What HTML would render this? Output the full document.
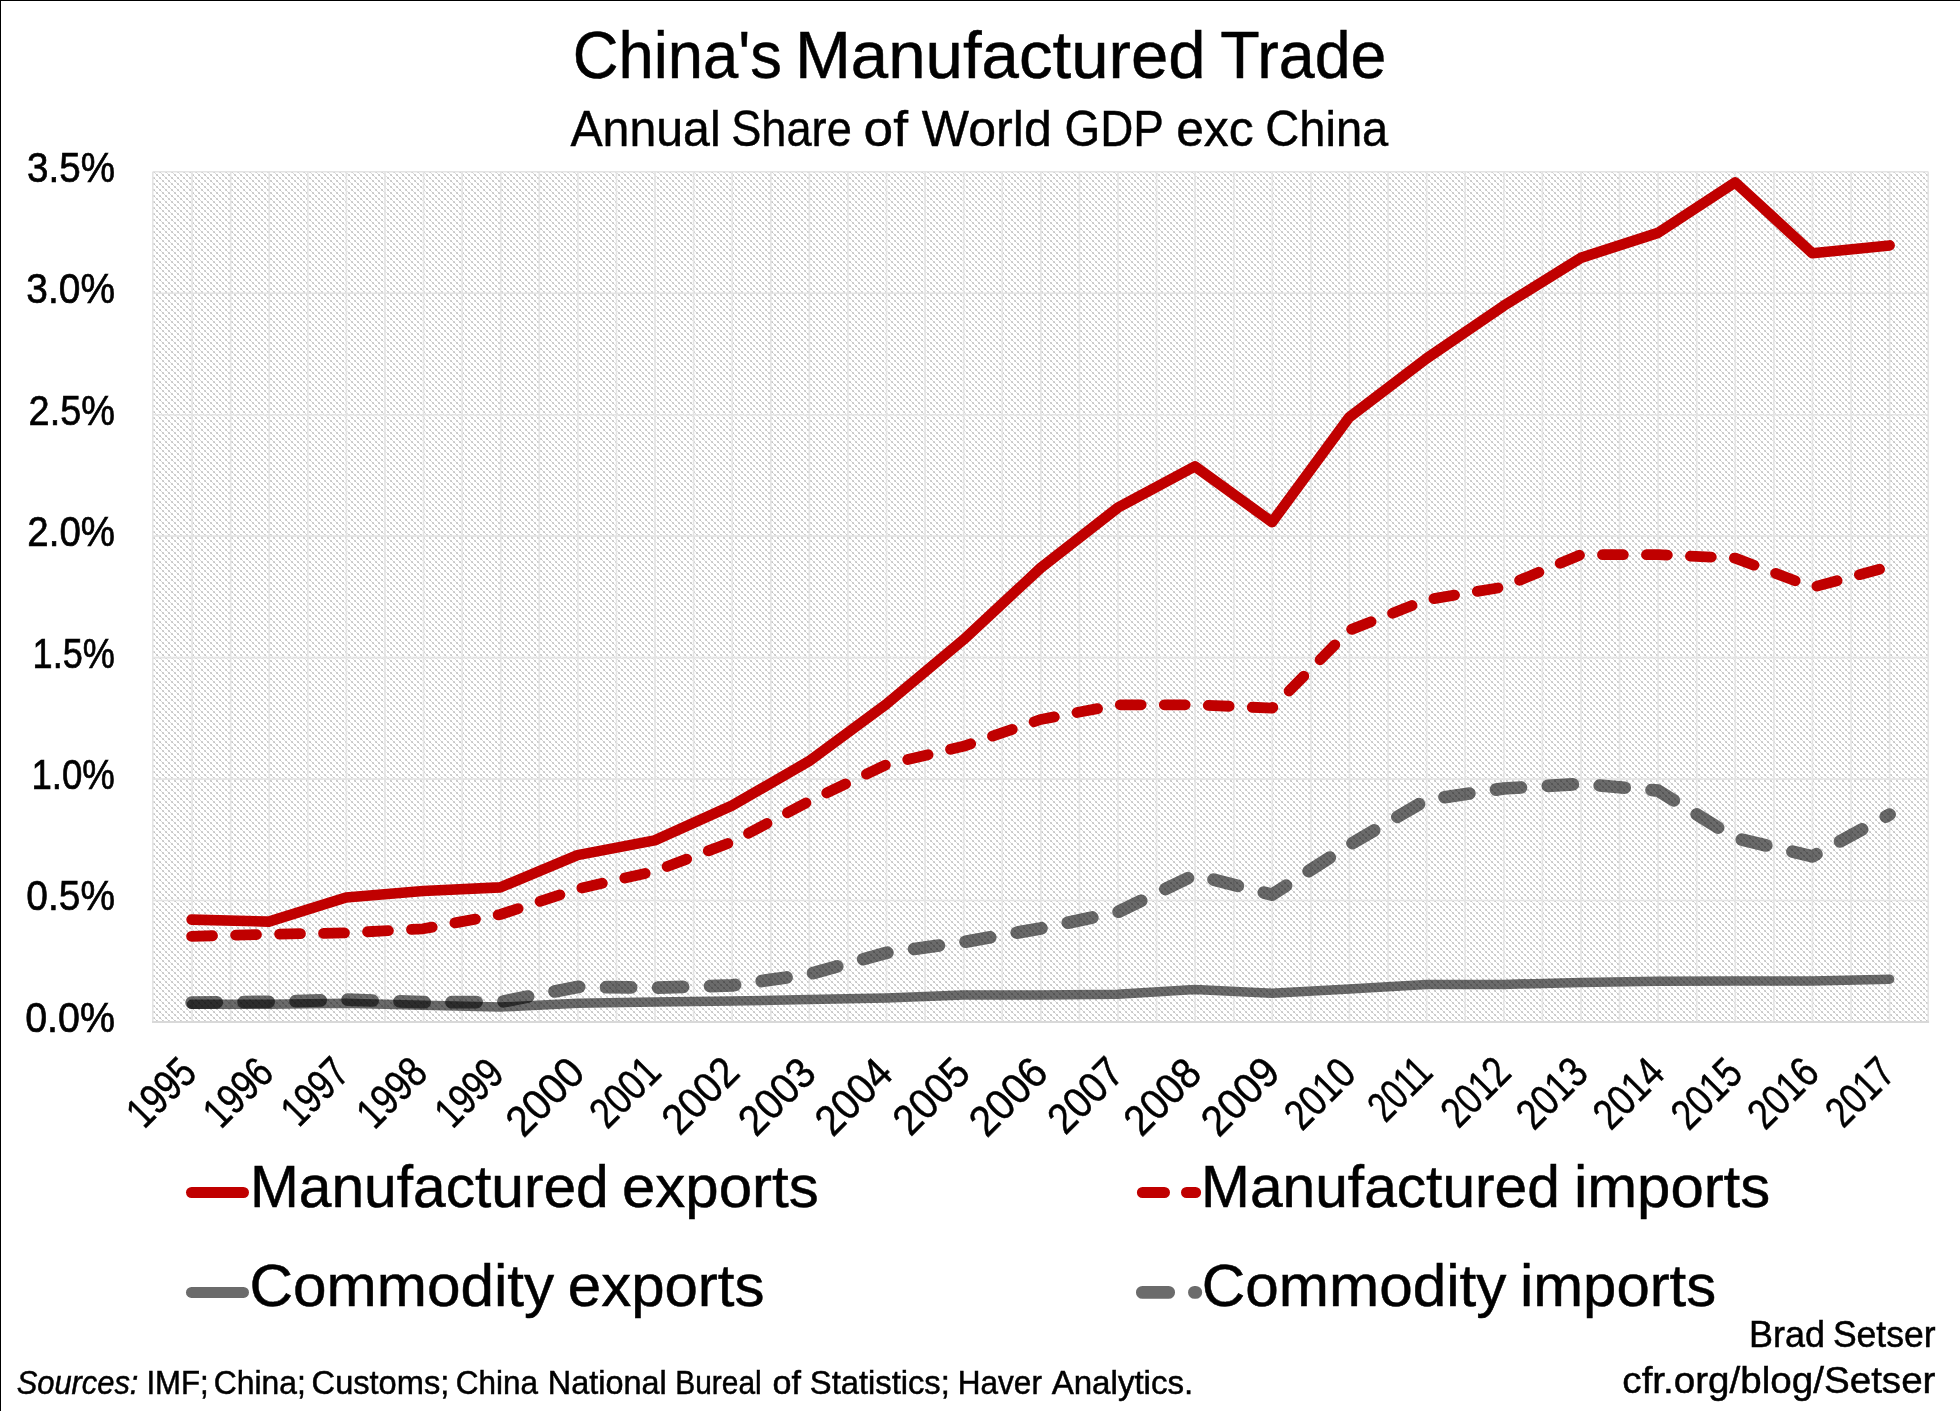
<!DOCTYPE html>
<html><head><meta charset="utf-8"><title>China's Manufactured Trade</title>
<style>
html,body{margin:0;padding:0;background:#fff;}
body{width:1960px;height:1411px;overflow:hidden;font-family:"Liberation Sans",sans-serif;}
svg{display:block;position:absolute;left:0;top:0;}
text{font-family:"Liberation Sans",sans-serif;fill:#000;}
</style></head><body>
<svg width="1960" height="1411" viewBox="0 0 1960 1411">
<defs>
<pattern id="hatch" width="6" height="6" patternUnits="userSpaceOnUse">
<rect width="6" height="6" fill="#ffffff"/>
<path d="M-1,-1 L7,7 M-1,5 L1,7 M5,-1 L7,1" stroke="#dcdcdc" stroke-width="1" fill="none"/>
<rect x="0.3" y="0.3" width="1.5" height="1.5" fill="#b4b4b4"/><rect x="3.3" y="3.3" width="1.5" height="1.5" fill="#b4b4b4"/>
</pattern>
</defs>
<rect x="0" y="0" width="1960" height="1411" fill="#fff"/>

<rect x="152.8" y="171.8" width="1775.5" height="850.2" fill="url(#hatch)"/>
<path d="M152.80,171.8 V1022.0 M192.08,171.8 V1022.0 M230.66,171.8 V1022.0 M269.24,171.8 V1022.0 M307.82,171.8 V1022.0 M346.40,171.8 V1022.0 M384.98,171.8 V1022.0 M423.56,171.8 V1022.0 M462.14,171.8 V1022.0 M500.72,171.8 V1022.0 M539.30,171.8 V1022.0 M577.88,171.8 V1022.0 M616.46,171.8 V1022.0 M655.04,171.8 V1022.0 M693.62,171.8 V1022.0 M732.20,171.8 V1022.0 M770.78,171.8 V1022.0 M809.36,171.8 V1022.0 M847.94,171.8 V1022.0 M886.52,171.8 V1022.0 M925.10,171.8 V1022.0 M963.68,171.8 V1022.0 M1002.26,171.8 V1022.0 M1040.84,171.8 V1022.0 M1079.42,171.8 V1022.0 M1118.00,171.8 V1022.0 M1156.58,171.8 V1022.0 M1195.16,171.8 V1022.0 M1233.74,171.8 V1022.0 M1272.32,171.8 V1022.0 M1310.90,171.8 V1022.0 M1349.48,171.8 V1022.0 M1388.06,171.8 V1022.0 M1426.64,171.8 V1022.0 M1465.22,171.8 V1022.0 M1503.80,171.8 V1022.0 M1542.38,171.8 V1022.0 M1580.96,171.8 V1022.0 M1619.54,171.8 V1022.0 M1658.12,171.8 V1022.0 M1696.70,171.8 V1022.0 M1735.28,171.8 V1022.0 M1773.86,171.8 V1022.0 M1812.44,171.8 V1022.0 M1851.02,171.8 V1022.0 M1889.60,171.8 V1022.0 M1928.18,171.8 V1022.0 M152.8,171.80 H1928.3 M152.8,293.26 H1928.3 M152.8,414.71 H1928.3 M152.8,536.17 H1928.3 M152.8,657.63 H1928.3 M152.8,779.09 H1928.3 M152.8,900.54 H1928.3" stroke="#e4e4e4" stroke-width="1.6" fill="none"/>
<path d="M152.0,1022.0 H1929.1" stroke="#d9d9d9" stroke-width="2" fill="none"/>
<polyline points="191.6,1004.3 268.8,1004.3 346.0,1003.3 423.1,1005.3 500.3,1007.0 577.5,1003.3 654.7,1001.9 731.9,1001.0 809.0,999.6 886.2,997.9 963.4,995.1 1040.6,995.1 1117.8,994.2 1194.9,989.6 1272.1,993.3 1349.3,989.0 1426.5,984.4 1503.7,984.4 1580.8,982.5 1658.0,981.3 1735.2,981.0 1812.4,981.0 1889.6,979.2" fill="none" stroke="rgba(0,0,0,0.58)" stroke-width="9.5" stroke-linecap="round" stroke-linejoin="round"/>
<polyline points="191.6,1002.7 268.8,1001.8 346.0,999.6 423.1,1002.2 500.3,1002.0 577.5,986.9 654.7,987.7 731.9,985.4 809.0,974.2 886.2,952.9 963.4,942.1 1040.6,928.4 1117.8,912.1 1194.9,874.8 1272.1,894.7 1349.3,845.0 1426.5,799.8 1503.7,788.5 1580.8,783.9 1658.0,790.6 1735.2,838.1 1812.4,856.4 1889.6,814.5" fill="none" stroke="rgba(0,0,0,0.58)" stroke-width="12.7" stroke-linecap="round" stroke-linejoin="round" stroke-dasharray="25.1 26.9"/>
<polyline points="191.6,936.3 268.8,934.3 346.0,932.9 423.1,928.8 500.3,914.5 577.5,889.0 654.7,871.2 731.9,842.0 809.0,801.4 886.2,764.7 963.4,746.3 1040.6,719.5 1117.8,704.8 1194.9,704.8 1272.1,708.1 1349.3,630.3 1426.5,599.8 1503.7,587.0 1580.8,554.7 1658.0,554.7 1735.2,558.1 1812.4,587.3 1889.6,566.6" fill="none" stroke="#c00000" stroke-width="10.8" stroke-linecap="round" stroke-linejoin="round" stroke-dasharray="20.9 23.1"/>
<polyline points="191.6,919.6 268.8,921.6 346.0,897.5 423.1,891.0 500.3,887.4 577.5,855.1 654.7,840.4 731.9,805.6 809.0,761.2 886.2,704.2 963.4,639.8 1040.6,568.0 1117.8,507.7 1194.9,466.4 1272.1,522.1 1349.3,417.2 1426.5,358.5 1503.7,305.8 1580.8,257.9 1658.0,232.9 1735.2,182.4 1812.4,253.3 1889.6,245.4" fill="none" stroke="#c00000" stroke-width="10.6" stroke-linecap="round" stroke-linejoin="round"/>
<g opacity="0.999">
<text transform="translate(572.78,78.20) scale(0.9383,1)" font-size="67.5" stroke="#000" stroke-width="0.50">China&#39;s</text>
<text transform="translate(794.90,78.20) scale(0.9953,1)" font-size="67.5" stroke="#000" stroke-width="0.50">Manufactured</text>
<text transform="translate(1220.14,78.20) scale(0.9574,1)" font-size="67.5" stroke="#000" stroke-width="0.50">Trade</text>
<text transform="translate(570.43,146.20) scale(0.9649,1)" font-size="50.0" stroke="#000" stroke-width="0.45">Annual</text>
<text transform="translate(731.21,146.20) scale(0.9038,1)" font-size="50.0" stroke="#000" stroke-width="0.45">Share</text>
<text transform="translate(863.56,146.20) scale(1.0656,1)" font-size="50.0" stroke="#000" stroke-width="0.45">of</text>
<text transform="translate(921.83,146.20) scale(1.0023,1)" font-size="50.0" stroke="#000" stroke-width="0.45">World</text>
<text transform="translate(1064.58,146.20) scale(0.9167,1)" font-size="50.0" stroke="#000" stroke-width="0.45">GDP</text>
<text transform="translate(1176.17,146.20) scale(0.9958,1)" font-size="50.0" stroke="#000" stroke-width="0.45">exc</text>
<text transform="translate(1265.32,146.20) scale(0.9412,1)" font-size="50.0" stroke="#000" stroke-width="0.45">China</text>
<text transform="translate(27.04,181.70) scale(0.8933,1)" font-size="43.2" stroke="#000" stroke-width="0.70">3.5%</text>
<text transform="translate(26.33,303.16) scale(0.9006,1)" font-size="43.2" stroke="#000" stroke-width="0.70">3.0%</text>
<text transform="translate(28.57,424.61) scale(0.8775,1)" font-size="43.2" stroke="#000" stroke-width="0.70">2.5%</text>
<text transform="translate(27.35,546.07) scale(0.8901,1)" font-size="43.2" stroke="#000" stroke-width="0.70">2.0%</text>
<text transform="translate(32.59,667.53) scale(0.8362,1)" font-size="43.2" stroke="#000" stroke-width="0.70">1.5%</text>
<text transform="translate(31.46,788.99) scale(0.8478,1)" font-size="43.2" stroke="#000" stroke-width="0.70">1.0%</text>
<text transform="translate(26.33,910.44) scale(0.9006,1)" font-size="43.2" stroke="#000" stroke-width="0.70">0.5%</text>
<text transform="translate(25.22,1031.90) scale(0.9120,1)" font-size="43.2" stroke="#000" stroke-width="0.70">0.0%</text>
<text transform="translate(249.96,1206.50) scale(1.0033,1)" font-size="58.5" stroke="#000" stroke-width="0.50">Manufactured</text>
<text transform="translate(621.98,1206.50) scale(1.0256,1)" font-size="58.5" stroke="#000" stroke-width="0.50">exports</text>
<text transform="translate(249.52,1306.40) scale(1.0305,1)" font-size="58.5" stroke="#000" stroke-width="0.50">Commodity</text>
<text transform="translate(567.78,1306.40) scale(1.0256,1)" font-size="58.5" stroke="#000" stroke-width="0.50">exports</text>
<text transform="translate(1201.06,1206.50) scale(1.0033,1)" font-size="58.5" stroke="#000" stroke-width="0.50">Manufactured</text>
<text transform="translate(1573.91,1206.50) scale(1.0236,1)" font-size="58.5" stroke="#000" stroke-width="0.50">imports</text>
<text transform="translate(1201.72,1306.40) scale(1.0305,1)" font-size="58.5" stroke="#000" stroke-width="0.50">Commodity</text>
<text transform="translate(1519.91,1306.40) scale(1.0236,1)" font-size="58.5" stroke="#000" stroke-width="0.50">imports</text>
<text transform="translate(16.67,1394.30) scale(0.9559,1)" font-size="32.3" font-style="italic" stroke="#000" stroke-width="0.50">Sources:</text>
<text transform="translate(146.42,1394.30) scale(0.9640,1)" font-size="32.3" stroke="#000" stroke-width="0.50">IMF;</text>
<text transform="translate(213.66,1394.30) scale(0.9873,1)" font-size="32.3" stroke="#000" stroke-width="0.50">China;</text>
<text transform="translate(311.62,1394.30) scale(1.0092,1)" font-size="32.3" stroke="#000" stroke-width="0.50">Customs;</text>
<text transform="translate(455.87,1394.30) scale(0.9749,1)" font-size="32.3" stroke="#000" stroke-width="0.50">China</text>
<text transform="translate(547.71,1394.30) scale(1.0048,1)" font-size="32.3" stroke="#000" stroke-width="0.50">National</text>
<text transform="translate(675.31,1394.30) scale(0.9254,1)" font-size="32.3" stroke="#000" stroke-width="0.50">Bureal</text>
<text transform="translate(772.58,1394.30) scale(1.0561,1)" font-size="32.3" stroke="#000" stroke-width="0.50">of</text>
<text transform="translate(809.83,1394.30) scale(1.0135,1)" font-size="32.3" stroke="#000" stroke-width="0.50">Statistics;</text>
<text transform="translate(957.79,1394.30) scale(0.9763,1)" font-size="32.3" stroke="#000" stroke-width="0.50">Haver</text>
<text transform="translate(1051.65,1394.30) scale(1.0251,1)" font-size="32.3" stroke="#000" stroke-width="0.50">Analytics.</text>
<text transform="translate(1749.04,1346.60) scale(0.9650,1)" font-size="37.3" stroke="#000" stroke-width="0.50">Brad</text>
<text transform="translate(1832.94,1346.60) scale(0.9525,1)" font-size="37.3" stroke="#000" stroke-width="0.50">Setser</text>
<text transform="translate(1622.34,1393.40) scale(1.0350,1)" font-size="37.3" stroke="#000" stroke-width="0.50">cfr.org/blog/Setser</text>
<text transform="translate(198.7,1075.2) rotate(-45) scale(0.810,1)" text-anchor="end" font-size="43" stroke="#000" stroke-width="0.5">1995</text>
<text transform="translate(275.6,1075.2) rotate(-45) scale(0.810,1)" text-anchor="end" font-size="43" stroke="#000" stroke-width="0.5">1996</text>
<text transform="translate(351.4,1075.4) rotate(-45) scale(0.780,1)" text-anchor="end" font-size="43" stroke="#000" stroke-width="0.5">1997</text>
<text transform="translate(429.7,1075.2) rotate(-45) scale(0.820,1)" text-anchor="end" font-size="43" stroke="#000" stroke-width="0.5">1998</text>
<text transform="translate(506.0,1076.3) rotate(-45) scale(0.790,1)" text-anchor="end" font-size="43" stroke="#000" stroke-width="0.5">1999</text>
<text transform="translate(587.0,1075.2) rotate(-45) scale(0.940,1)" text-anchor="end" font-size="43" stroke="#000" stroke-width="0.5">2000</text>
<text transform="translate(663.4,1074.2) rotate(-45) scale(0.830,1)" text-anchor="end" font-size="43" stroke="#000" stroke-width="0.5">2001</text>
<text transform="translate(741.7,1074.6) rotate(-45) scale(0.920,1)" text-anchor="end" font-size="43" stroke="#000" stroke-width="0.5">2002</text>
<text transform="translate(818.3,1075.7) rotate(-45) scale(0.920,1)" text-anchor="end" font-size="43" stroke="#000" stroke-width="0.5">2003</text>
<text transform="translate(895.0,1075.9) rotate(-45) scale(0.920,1)" text-anchor="end" font-size="43" stroke="#000" stroke-width="0.5">2004</text>
<text transform="translate(972.6,1075.4) rotate(-45) scale(0.920,1)" text-anchor="end" font-size="43" stroke="#000" stroke-width="0.5">2005</text>
<text transform="translate(1050.2,1075.2) rotate(-45) scale(0.940,1)" text-anchor="end" font-size="43" stroke="#000" stroke-width="0.5">2006</text>
<text transform="translate(1126.2,1075.1) rotate(-45) scale(0.900,1)" text-anchor="end" font-size="43" stroke="#000" stroke-width="0.5">2007</text>
<text transform="translate(1203.8,1075.9) rotate(-45) scale(0.920,1)" text-anchor="end" font-size="43" stroke="#000" stroke-width="0.5">2008</text>
<text transform="translate(1282.2,1074.9) rotate(-45) scale(0.940,1)" text-anchor="end" font-size="43" stroke="#000" stroke-width="0.5">2009</text>
<text transform="translate(1358.0,1076.0) rotate(-45) scale(0.830,1)" text-anchor="end" font-size="43" stroke="#000" stroke-width="0.5">2010</text>
<text transform="translate(1434.6,1074.6) rotate(-45) scale(0.750,1)" text-anchor="end" font-size="43" stroke="#000" stroke-width="0.5">2011</text>
<text transform="translate(1513.2,1074.8) rotate(-45) scale(0.810,1)" text-anchor="end" font-size="43" stroke="#000" stroke-width="0.5">2012</text>
<text transform="translate(1590.2,1075.3) rotate(-45) scale(0.830,1)" text-anchor="end" font-size="43" stroke="#000" stroke-width="0.5">2013</text>
<text transform="translate(1666.9,1075.4) rotate(-45) scale(0.830,1)" text-anchor="end" font-size="43" stroke="#000" stroke-width="0.5">2014</text>
<text transform="translate(1744.8,1075.6) rotate(-45) scale(0.830,1)" text-anchor="end" font-size="43" stroke="#000" stroke-width="0.5">2015</text>
<text transform="translate(1821.4,1075.1) rotate(-45) scale(0.830,1)" text-anchor="end" font-size="43" stroke="#000" stroke-width="0.5">2016</text>
<text transform="translate(1897.4,1075.1) rotate(-45) scale(0.800,1)" text-anchor="end" font-size="43" stroke="#000" stroke-width="0.5">2017</text>
</g>
<path d="M191.6,1192.5 H243.4" stroke="#c00000" stroke-width="11.2" stroke-linecap="round"/>
<path d="M191.5,1292.4 H243.5" stroke="#6b6b6b" stroke-width="11" stroke-linecap="round"/>
<path d="M1142.5,1192.5 H1164.4 M1186.6,1192.5 H1195.5" stroke="#c00000" stroke-width="11.2" stroke-linecap="round"/>
<path d="M1142.4,1292.4 H1168.6 M1194.5,1292.4 H1195.7" stroke="#6b6b6b" stroke-width="12.9" stroke-linecap="round"/>
<rect x="0" y="0" width="1960" height="1" fill="#000"/><rect x="0" y="0" width="1" height="1411" fill="#000"/>
</svg></body></html>
